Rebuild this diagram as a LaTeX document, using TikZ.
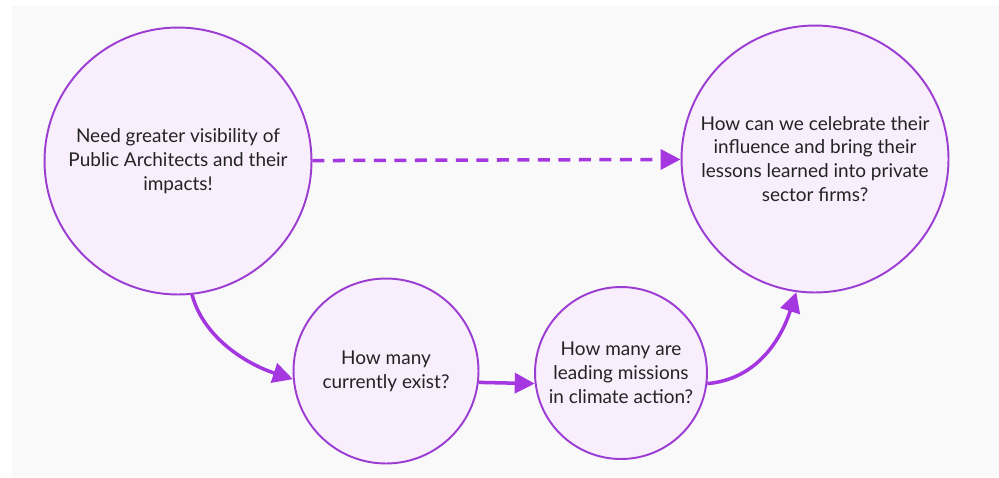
\documentclass[tikz,border=0pt]{standalone}
\usepackage{fontspec}
\setmainfont{Lato}
\usetikzlibrary{arrows.meta, positioning}
\definecolor{bubble}{RGB}{249,238,252}
\definecolor{rim}{RGB}{155,60,210}
\definecolor{flow}{RGB}{165,55,225}
\definecolor{panel}{RGB}{249,249,249}
\definecolor{ink}{RGB}{35,35,35}

\begin{document}
\begin{tikzpicture}[x=0.02cm,y=-0.02cm,
    idea/.style={circle,draw=rim,line width=1.1pt,fill=bubble,text=ink,align=center,
      font=\fontsize{10.8}{13.6}\selectfont,inner sep=0pt},
    link/.style={draw=flow,line width=2pt,-{Triangle[length=0.4cm,width=0.4cm]}}]
    \def\dbig{5.34cm}
    \def\dmid{3.7cm}
    \def\dsml{3.44cm}

    % canvas and grey panel
    \useasboundingbox[fill=white] (0,0) rectangle (999,477);
    \fill[panel] (12,6) rectangle (999,477);

    \node[idea,minimum size=\dbig] (need) at (178,161) {Need greater visibility of\\Public Architects and their\\impacts!};
    \node[idea,minimum size=\dbig] (celebrate) at (815,159) {How can we celebrate their\\influence and bring their\\lessons learned into private\\sector firms?};
    \node[idea,minimum size=\dmid] (exist) at (386,371) {How many\\currently exist?};
    \node[idea,minimum size=\dsml] (leading) at (621,373) {How many are\\leading missions\\in climate action?};

    \draw[link,dash pattern=on 0.24cm off 0.17cm] (need) -- (celebrate);
    \draw[link] (need.-84) to[out=-75,in=162,looseness=0.9] (exist.185);
    \draw[link] (exist.-7) -- (leading.187);
    \draw[link] (leading.-7) to[out=5,in=-108] (celebrate.262);
  \end{tikzpicture}
\end{document}
